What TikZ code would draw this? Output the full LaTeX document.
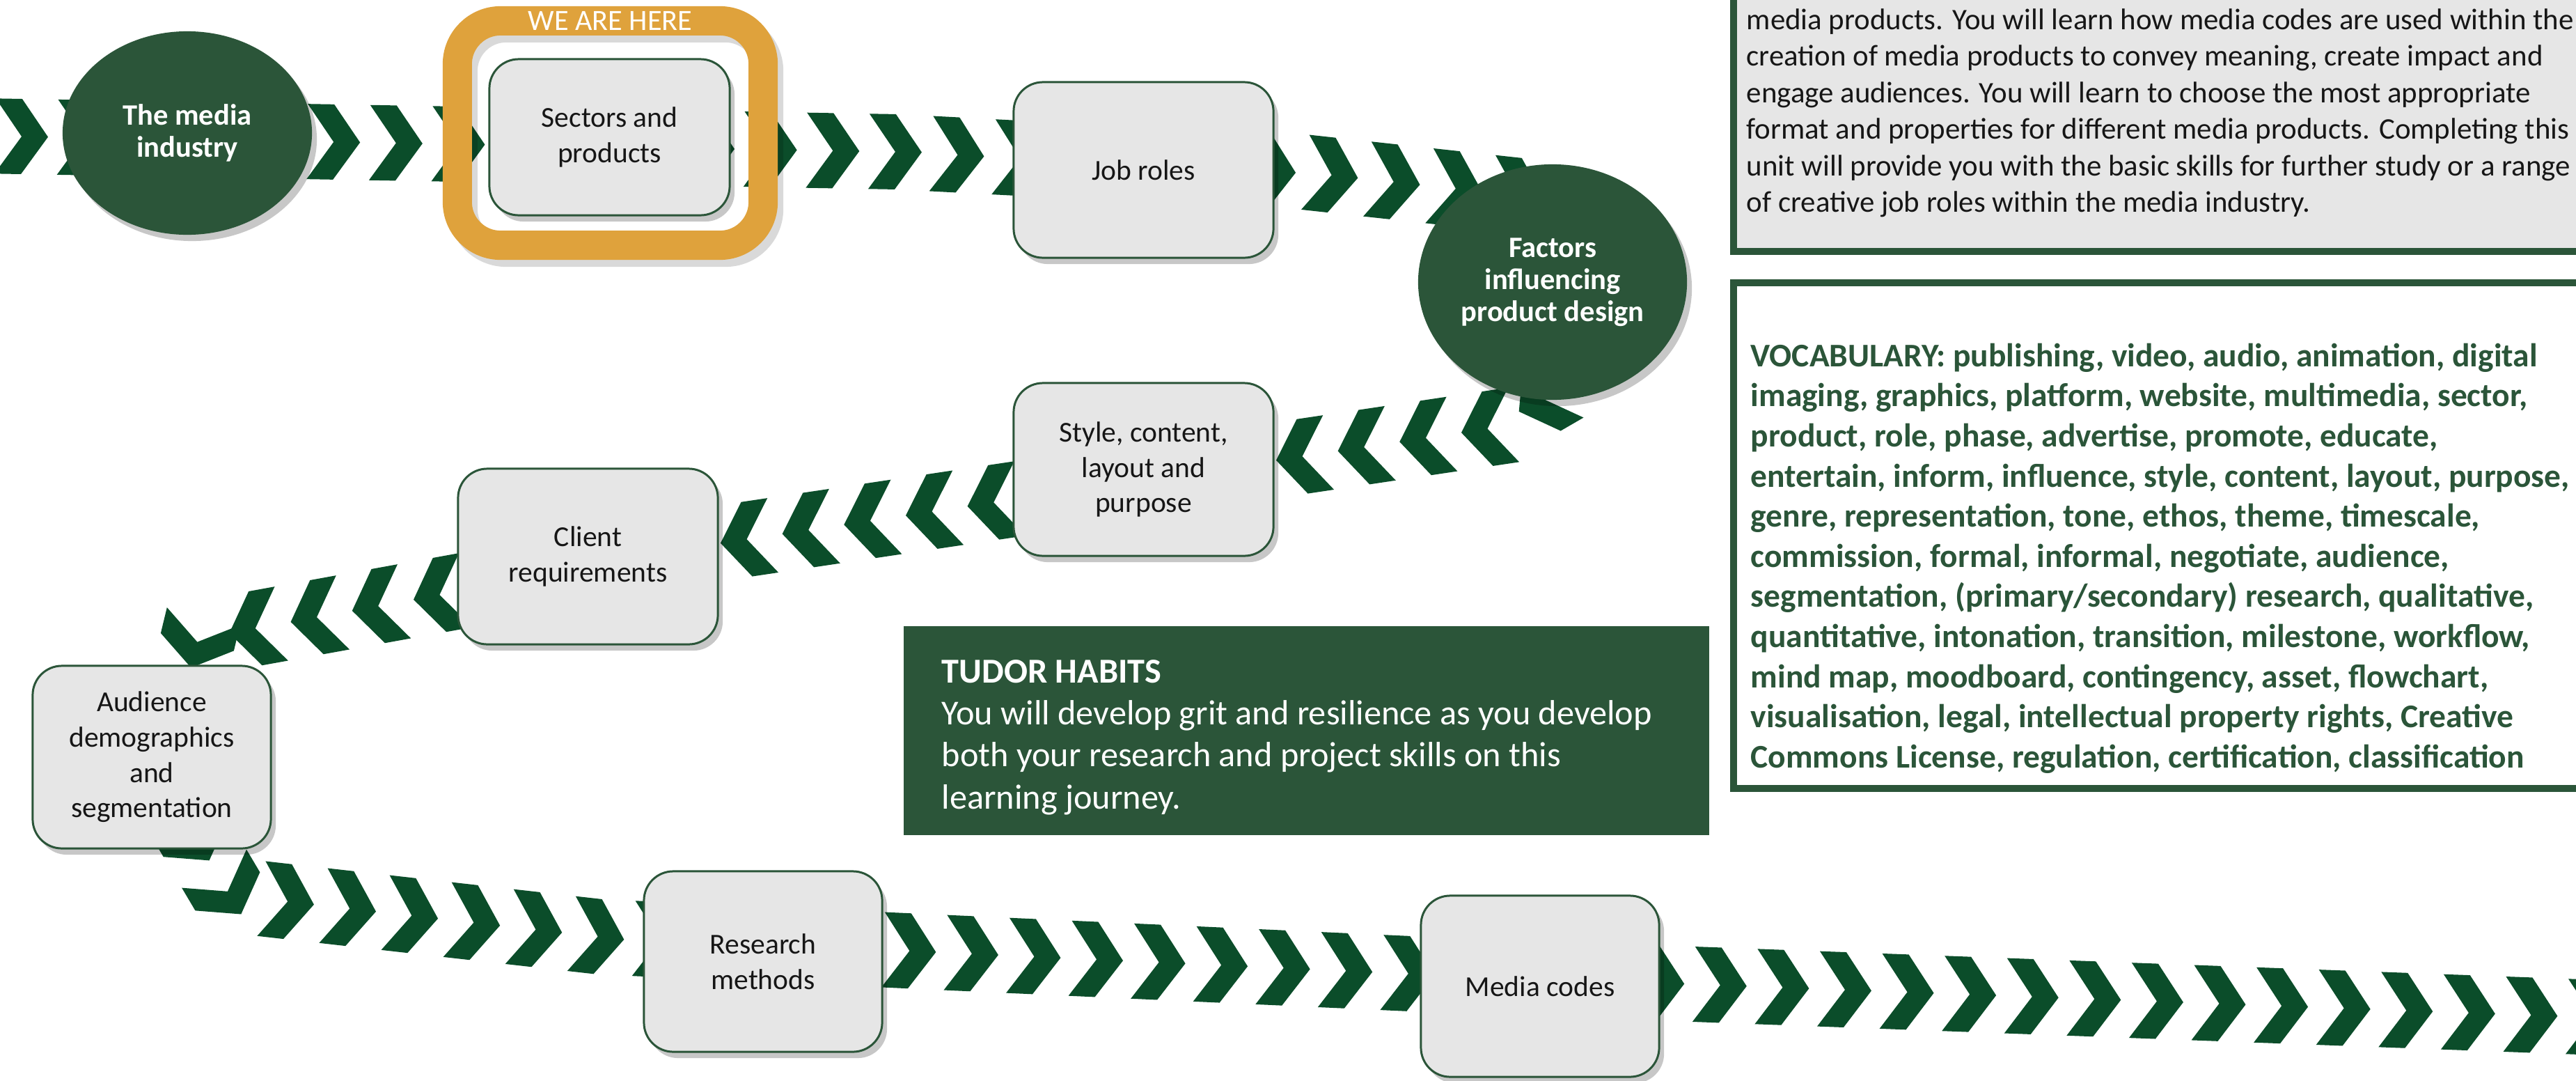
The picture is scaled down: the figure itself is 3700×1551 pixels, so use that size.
\documentclass[tikz,border=0pt]{standalone}
\usepackage{fontspec}
\setmainfont{Carlito}
\usetikzlibrary{decorations.markings,shadows,shapes.geometric}

\definecolor{chevgreen}{HTML}{0B4D2A}
\definecolor{deepgreen}{HTML}{2B5539}
\definecolor{panelgrey}{HTML}{E6E6E6}
\definecolor{framegold}{HTML}{DFA23C}
\definecolor{labelink}{HTML}{161616}

\newcommand{\pxfont}[2]{\fontsize{#1pt}{#2pt}\selectfont}

\begin{document}
\begin{tikzpicture}[x=0.01cm, y=-0.01cm,
  softshadow/.style={drop shadow={shadow xshift=0.07cm, shadow yshift=-0.09cm, opacity=0.22, fill=black}},
  stepbox/.style={draw=deepgreen, line width=0.85pt, fill=panelgrey, rounded corners=0.42cm,
    align=center, text=labelink, font=\pxfont{11.8}{14.4}, inner sep=0pt, softshadow},
  hub/.style={ellipse, fill=deepgreen, text=white, align=center,
    font=\bfseries\pxfont{12.1}{13.1}, inner sep=0pt, softshadow},
  framering/.style={draw=framegold, line width=11.95pt, rounded corners=0.62cm, outer sep=0pt,
    inner sep=0pt, minimum width=4.39cm, minimum height=3.22cm},
  chevtrack/.style={postaction={decorate}, decoration={markings,
    mark=between positions #1 and 1 step 0.896cm with {
      \fill[chevgreen] (-38,-54) -- (0,-54) -- (38,0) -- (0,54) -- (-38,54) -- (0,0) -- cycle;}}},
  textpanel/.style={draw=deepgreen, line width=2.85pt, inner sep=0pt, outer sep=0pt},
  paneltext/.style={anchor=north west, align=left, inner sep=0pt}
]
\useasboundingbox (0,0) rectangle (3700,1551);

% ---- waypoints of the chevron track ----
\coordinate (a0) at (31,196);
\coordinate (a1) at (1290,218);
\coordinate (a2) at (1900,250);
\coordinate (a3) at (2230,286);

\coordinate (b0) at (2235,560);
\coordinate (b1) at (2140,615);
\coordinate (b2) at (1067,775);
\coordinate (b3) at (362,903);
\coordinate (b4) at (285,915);
\coordinate (b5) at (262,1010);

\coordinate (c0) at (250,1150);
\coordinate (c1) at (330,1285);
\coordinate (c2) at (862,1345);
\coordinate (c3) at (2026,1398);
\coordinate (c4) at (3760,1462);

% ---- chevron track ----
\path[chevtrack=0pt] (a0) -- (a1) -- (a2) -- (a3);
\path[chevtrack=0.236cm] (b0) -- (b1) -- (b2) -- (b3) -- (b4) -- (b5);
\path[chevtrack=0.612cm] (c0) -- (c1) -- (c2) -- (c3) -- (c4);

% ---- current-position frame ----
\node[framering, draw=black, opacity=0.15, xshift=0.08cm, yshift=-0.1cm] (hereshade) at (876.5,191) {};
\node[framering] (here) at (876.5,191) {};
\node[font=\pxfont{12}{14}, text=white, inner sep=0pt] (herelabel) at (here.north) {WE ARE HERE};

% ---- stages ----
\node[hub, minimum width=3.58cm, minimum height=2.92cm] (industry) at (269,191) {The media\\industry};
\node[stepbox, minimum width=3.45cm, minimum height=2.24cm] (sectors) at (875.5,197) {Sectors and\\products};
\node[stepbox, minimum width=3.73cm, minimum height=2.52cm] (jobroles) at (1642.5,244) {Job roles};
\node[hub, minimum width=3.86cm, minimum height=3.38cm] (factors) at (2230,405) {Factors\\influencing\\product design};
\node[stepbox, minimum width=3.73cm, minimum height=2.48cm] (style) at (1642.5,674) {Style, content,\\layout and\\purpose};
\node[stepbox, minimum width=3.73cm, minimum height=2.52cm] (client) at (844.5,799) {Client\\requirements};
\node[stepbox, minimum width=3.42cm, minimum height=2.62cm] (audience) at (218,1087) {Audience\\demographics\\and\\segmentation};
\node[stepbox, minimum width=3.42cm, minimum height=2.59cm] (research) at (1096,1380.5) {Research\\methods};
\node[stepbox, minimum width=3.42cm, minimum height=2.60cm] (mediacodes) at (2212,1416) {Media codes};

% ---- unit overview panel ----
\node[textpanel, fill=panelgrey, anchor=south west, minimum width=13cm, minimum height=5cm] (aboutpanel) at (2490,361) {};
\node[paneltext, font=\pxfont{12.2}{14.9}, text=labelink] (abouttext) at (2508,12) {%
media products. You will learn how media codes are used within the\\
creation of media products to convey meaning, create impact and\\
engage audiences. You will learn to choose the most appropriate\\
format and properties for different media products. Completing this\\
unit will provide you with the basic skills for further study or a range\\
of creative job roles within the media industry.};

% ---- vocabulary panel ----
\node[textpanel, fill=white, anchor=north west, minimum width=13cm, minimum height=7.26cm] (vocabpanel) at (2490,406) {};
\node[paneltext, text=deepgreen, font=\bfseries\pxfont{13.5}{16.39}] (vocabtext) at (2514,492) {%
VOCABULARY: publishing, video, audio, animation, digital\\
imaging, graphics, platform, website, multimedia, sector,\\
product, role, phase, advertise, promote, educate,\\
entertain, inform, influence, style, content, layout, purpose,\\
genre, representation, tone, ethos, theme, timescale,\\
commission, formal, informal, negotiate, audience,\\
segmentation, (primary/secondary) research, qualitative,\\
quantitative, intonation, transition, milestone, workflow,\\
mind map, moodboard, contingency, asset, flowchart,\\
visualisation, legal, intellectual property rights, Creative\\
Commons License, regulation, certification, classification};

% ---- habits panel ----
\node[fill=deepgreen, anchor=north west, minimum width=11.56cm, minimum height=3cm, inner sep=0pt, outer sep=0pt] (habits) at (1298,899) {};
\node[paneltext, text=white, font=\pxfont{14.3}{17.1}] (habitstext) at (1352,947) {%
\textbf{TUDOR HABITS}\\
You will develop grit and resilience as you develop\\
both your research and project skills on this\\
learning journey.};
\end{tikzpicture}
\end{document}
